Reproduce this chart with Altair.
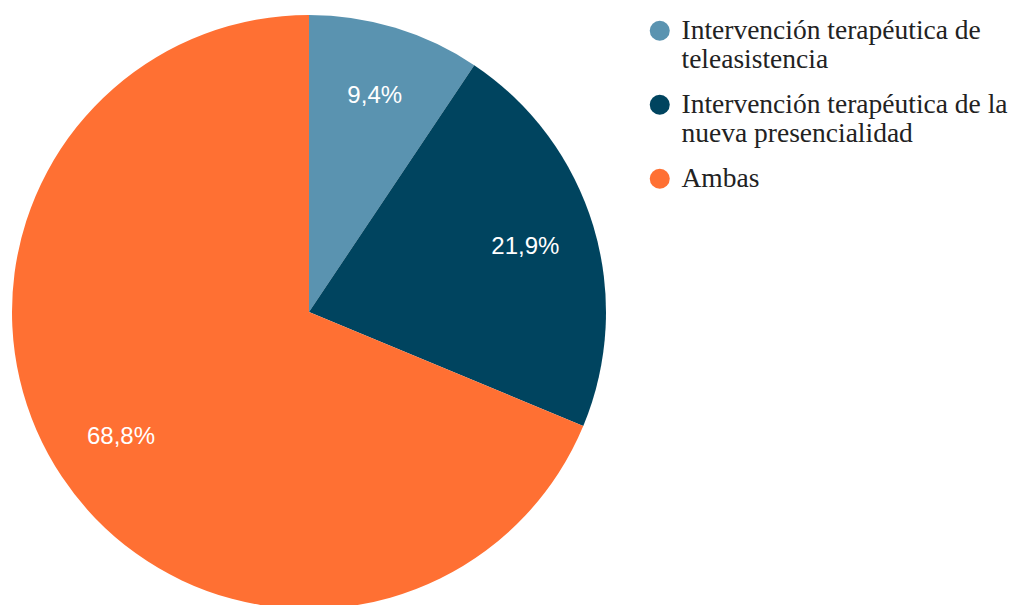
import altair as alt
import pandas as pd

categories = [
    "Intervención terapéutica de teleasistencia",
    "Intervención terapéutica de la nueva presencialidad",
    "Ambas",
]
values = [9.4, 21.9, 68.8]
pct_labels = ["9,4%", "21,9%", "68,8%"]
colors = ["#5A93B0", "#00445F", "#FF7033"]
order = [0, 1, 2]

df = pd.DataFrame({"cat": categories, "val": values, "label": pct_labels, "ord": order})

label_expr = (
    "datum.label == 'Intervención terapéutica de teleasistencia' ? "
    "['Intervención terapéutica de', 'teleasistencia'] : "
    "datum.label == 'Intervención terapéutica de la nueva presencialidad' ? "
    "['Intervención terapéutica de la', 'nueva presencialidad'] : datum.label"
)

base = alt.Chart(df).encode(
    theta=alt.Theta("val:Q", stack=True),
    order=alt.Order("ord:Q"),
    x=alt.value(301),
    y=alt.value(304),
)

pie = base.mark_arc(outerRadius=297).encode(
    color=alt.Color(
        "cat:N",
        scale=alt.Scale(domain=categories, range=colors),
        legend=alt.Legend(
            title=None,
            orient="none",
            legendX=638,
            legendY=9,
            symbolType="circle",
            symbolSize=400,
            symbolStrokeWidth=0,
            labelFont="Liberation Serif",
            labelFontSize=27.5,
            labelColor="#222222",
            labelLimit=0,
            labelExpr=label_expr,
            labelOffset=8,
            rowPadding=16,
        ),
    )
)

text = base.mark_text(
    radius=226, fontSize=24, font="Liberation Sans", color="white"
).encode(text="label:N")

chart = (
    (pie + text)
    .properties(width=1005, height=597, padding=0, autosize="none")
    .configure_view(stroke=None)
)

chart.save("out.html", embed_options={"renderer": "svg", "actions": False})
